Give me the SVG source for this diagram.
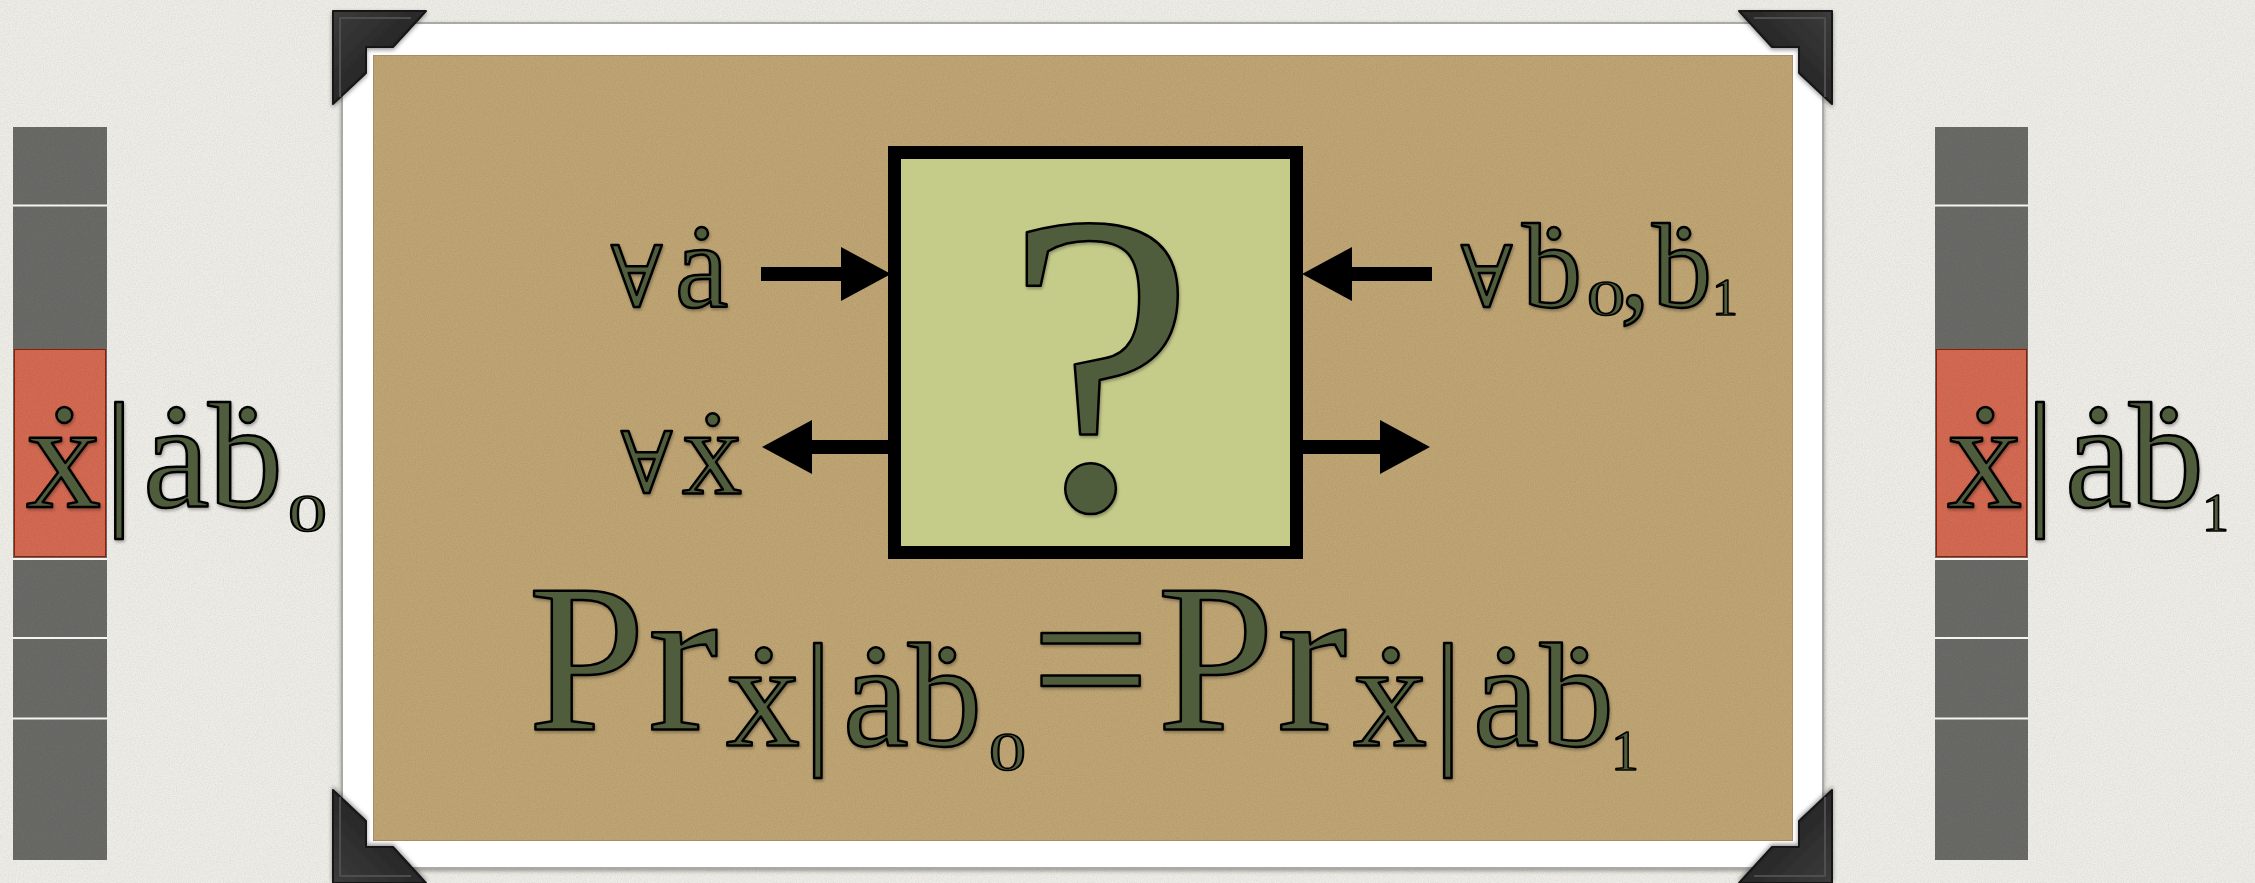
<svg xmlns="http://www.w3.org/2000/svg" xmlns:xlink="http://www.w3.org/1999/xlink" width="2255" height="883" viewBox="0 0 2255 883">
<defs>
<style>
.lbl{font-family:"Liberation Serif","DejaVu Serif",serif;fill:#4f5d3c;stroke:#000;stroke-width:2.5;stroke-linejoin:round;filter:url(#ts);}
.sub{font-family:"Liberation Serif","DejaVu Serif",serif;fill:#4f5d3c;stroke:#000;stroke-width:1.6;stroke-linejoin:round;}
.fa{font-family:"DejaVu Serif","Liberation Serif",serif;}
.arrow{stroke:#000;stroke-width:14;fill:none;}
.cell{fill:#6a6a67;}
.sep{stroke:#f4f4f0;stroke-width:2;}
.corner{fill:url(#cg);stroke:#151515;stroke-width:2;stroke-linejoin:round;filter:url(#cs);}
.bevel{fill:none;stroke:#4e4e4e;stroke-width:2;stroke-linejoin:round;}
</style>
<marker id="ah" viewBox="0 0 50 54" refX="0" refY="27" markerWidth="50" markerHeight="54" markerUnits="userSpaceOnUse" orient="auto">
<path d="M0,0 L50,27 L0,54 Z" fill="#000"/>
</marker>
<linearGradient id="cg" x1="0" y1="0" x2="1" y2="1">
<stop offset="0" stop-color="#3c3c3c"/>
<stop offset="0.5" stop-color="#282828"/>
<stop offset="1" stop-color="#1a1a1a"/>
</linearGradient>
<filter id="grain" x="0" y="0" width="100%" height="100%">
<feTurbulence type="fractalNoise" baseFrequency="0.85" numOctaves="2" seed="3" result="t"/>
<feColorMatrix in="t" type="matrix" values="0 0 0 0 0  0 0 0 0 0  0 0 0 0 0  0.25 0 0 0 -0.08" result="n"/>
<feComposite in="n" in2="SourceGraphic" operator="in" result="n2"/>
<feMerge><feMergeNode in="SourceGraphic"/><feMergeNode in="n2"/></feMerge>
</filter>
<filter id="ts" x="-10%" y="-10%" width="130%" height="130%">
<feDropShadow dx="1" dy="2" stdDeviation="1.5" flood-color="#000" flood-opacity="0.3"/>
</filter>
<filter id="cs" x="-20%" y="-20%" width="140%" height="140%">
<feDropShadow dx="0" dy="2" stdDeviation="2" flood-color="#000" flood-opacity="0.4"/>
</filter>
<filter id="fs" x="-5%" y="-5%" width="110%" height="110%">
<feDropShadow dx="0" dy="2" stdDeviation="2" flood-color="#000" flood-opacity="0.35"/>
</filter>
<g id="cornerShape">
<polygon class="corner" points="333,11 426,11 393,47 366,47 366,73 333,104"/>
<polyline class="bevel" points="340,97 340,18 411,18"/>
</g>
</defs>

<rect id="background" x="0" y="0" width="2255" height="883" fill="#eeede7" filter="url(#grain)"/>

<g id="frame">
<rect x="342" y="23" width="1481" height="845" fill="#ffffff" stroke="#a9a9a6" stroke-width="2" filter="url(#fs)"/>
<rect x="373" y="55" width="1420" height="786" fill="#c0a674" stroke="#a58b60" stroke-width="1.5" filter="url(#grain)"/>
</g>

<g id="corners">
<use xlink:href="#cornerShape"/>
<use xlink:href="#cornerShape" transform="translate(2165,0) scale(-1,1)"/>
<use xlink:href="#cornerShape" transform="translate(0,894) scale(1,-1)"/>
<use xlink:href="#cornerShape" transform="translate(2165,894) scale(-1,-1)"/>
</g>

<g id="left-column">
<rect class="cell" x="13" y="127" width="94" height="733" filter="url(#grain)"/>
<line class="sep" x1="13" y1="205.5" x2="107" y2="205.5"/>
<line class="sep" x1="13" y1="559" x2="107" y2="559"/>
<line class="sep" x1="13" y1="638" x2="107" y2="638"/>
<line class="sep" x1="13" y1="718.5" x2="107" y2="718.5"/>
<rect x="14" y="349" width="92" height="208" fill="#d46b52" stroke="#93200f" stroke-width="2" filter="url(#grain)"/>
</g>

<g id="right-column">
<rect class="cell" x="1935" y="127" width="93" height="733" filter="url(#grain)"/>
<line class="sep" x1="1935" y1="205.5" x2="2028" y2="205.5"/>
<line class="sep" x1="1935" y1="559" x2="2028" y2="559"/>
<line class="sep" x1="1935" y1="638" x2="2028" y2="638"/>
<line class="sep" x1="1935" y1="718.5" x2="2028" y2="718.5"/>
<rect x="1936" y="349" width="91" height="208" fill="#d46b52" stroke="#93200f" stroke-width="2" filter="url(#grain)"/>
</g>

<g id="left-label">
<text class="lbl" font-size="150" y="507"><tspan x="26">x&#x307;</tspan><tspan x="104">|</tspan><tspan x="143">a&#x307;</tspan><tspan x="208">b&#x307;</tspan></text>
<text class="sub" font-size="52" transform="translate(288,531) scale(1.5,1)">0</text>
</g>

<g id="right-label">
<text class="lbl" font-size="150" y="507"><tspan x="1947">x&#x307;</tspan><tspan x="2025">|</tspan><tspan x="2065">a&#x307;</tspan><tspan x="2129">b&#x307;</tspan></text>
<text class="sub" font-size="54" x="2202" y="531">1</text>
</g>

<g id="box">
<rect x="894.5" y="152.5" width="402" height="400" fill="#c5cc8a" stroke="#000" stroke-width="13"/>
<text class="lbl" font-size="430" x="1100" y="508" text-anchor="middle" stroke-width="4">?</text>
</g>

<g id="label-a">
<text class="lbl" font-size="120" y="307"><tspan class="fa" x="611" font-size="85">∀</tspan><tspan x="675">a&#x307;</tspan></text>
</g>

<g id="label-b">
<text class="lbl" font-size="120" y="307"><tspan class="fa" x="1461" font-size="85">∀</tspan><tspan x="1522">b&#x307;</tspan><tspan x="1620">,</tspan><tspan x="1652">b&#x307;</tspan></text>
<text class="sub" font-size="51" transform="translate(1587,315) scale(1.5,1)">0</text>
<text class="sub" font-size="52" x="1712" y="315">1</text>
</g>

<g id="label-x">
<text class="lbl" font-size="120" y="493"><tspan class="fa" x="621" font-size="85">∀</tspan><tspan x="682">x&#x307;</tspan></text>
</g>

<g id="formula">
<text class="lbl" font-size="211" y="730"><tspan x="528">P</tspan><tspan x="648">r</tspan><tspan x="726" y="746" font-size="148">x&#x307;</tspan><tspan x="803" font-size="148">|</tspan><tspan x="843" font-size="148">a&#x307;</tspan><tspan x="908" font-size="148">b&#x307;</tspan><tspan x="1031" y="730">=</tspan><tspan x="1157">P</tspan><tspan x="1277">r</tspan><tspan x="1353" y="746" font-size="148">x&#x307;</tspan><tspan x="1433" font-size="148">|</tspan><tspan x="1473" font-size="148">a&#x307;</tspan><tspan x="1540" font-size="148">b&#x307;</tspan></text>
<text class="sub" font-size="55" transform="translate(989,770) scale(1.35,1)">0</text>
<text class="sub" font-size="56" x="1611" y="770">1</text>
</g>

<g id="connectors">
<line class="arrow" x1="761" y1="274" x2="841" y2="274" marker-end="url(#ah)"/>
<line class="arrow" x1="1432" y1="274" x2="1352" y2="274" marker-end="url(#ah)"/>
<line class="arrow" x1="889" y1="447" x2="812" y2="447" marker-end="url(#ah)"/>
<line class="arrow" x1="1302" y1="447" x2="1380" y2="447" marker-end="url(#ah)"/>
</g>
</svg>
